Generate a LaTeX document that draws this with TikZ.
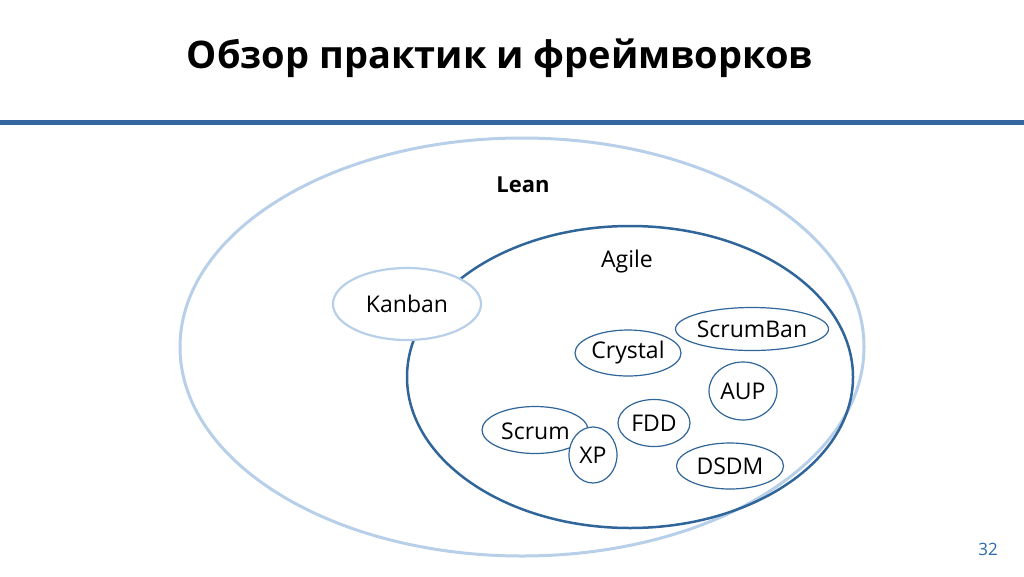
\documentclass[tikz,border=0pt]{standalone}
\usepackage{fontspec}
\setmainfont{Open Sans}
\usetikzlibrary{shapes.geometric}
\definecolor{lightb}{HTML}{B7CFE8}
\definecolor{darkb}{HTML}{2F6599}
\definecolor{barb}{HTML}{3466A0}
\definecolor{numb}{HTML}{2A6BB0}
\tikzset{
  lightell/.style={ellipse, draw=lightb, line width=3pt, inner sep=0pt},
  agileell/.style={ellipse, draw=darkb, line width=2.5pt, inner sep=0pt},
  smallell/.style={ellipse, draw=darkb, line width=1.2pt, fill=white, inner sep=0pt},
  lbl/.style={font=\fontsize{23}{26}\selectfont, inner sep=0pt}
}
\begin{document}
\begin{tikzpicture}[x=1pt,y=-1pt]
\useasboundingbox (0,0) rectangle (1024,576);
\node[font=\fontsize{38}{42}\selectfont\bfseries, inner sep=0pt] (title) at (500,58) {Обзор практик и фреймворков};
\draw[barb, line width=5pt] (0,122) coordinate (b1) -- (1024,122) coordinate (b2);
\node[lightell, minimum width=684pt, minimum height=418pt] (lean) at (522,347) {};
\node[agileell, minimum width=446pt, minimum height=302pt] (agile) at (630,377) {};
\node[lightell, line width=2.2pt, fill=white, minimum width=148pt, minimum height=72pt] (kanban) at (407,304) {};
\node[lbl] (kanbanlbl) at (kanban) {Kanban};
\node[lbl, font=\fontsize{22}{24}\selectfont\bfseries] (leanlbl) at (523,185) {Lean};
\node[lbl] (agilelbl) at (627,262) {Agile};
\node[smallell, minimum width=153pt, minimum height=43pt] (scrumban) at (752,329) {};
\node[lbl] (scrumbanlbl) at (scrumban) {ScrumBan};
\node[smallell, minimum width=106pt, minimum height=46pt] (crystal) at (628,353) {};
\node[lbl] (crystallbl) at (crystal) {Crystal};
\node[smallell, minimum width=68pt, minimum height=58pt] (aup) at (743,391) {};
\node[lbl] (auplbl) at (aup) {AUP};
\node[smallell, minimum width=72pt, minimum height=47pt] (fdd) at (654,423) {};
\node[lbl] (fddlbl) at (fdd) {FDD};
\node[smallell, minimum width=106pt, minimum height=47pt] (scrum) at (535,430) {};
\node[lbl, anchor=west] (scrumlbl) at (501,431) {Scrum};
\node[smallell, minimum width=48pt, minimum height=56pt] (xp) at (593,455) {};
\node[lbl] (xplbl) at (xp) {XP};
\node[smallell, minimum width=107pt, minimum height=46pt] (dsdm) at (730,466) {};
\node[lbl] (dsdmlbl) at (dsdm) {DSDM};
\node[font=\fontsize{17}{20}\selectfont, text=numb, inner sep=0pt] (num) at (988,549) {32};
\end{tikzpicture}
\end{document}
